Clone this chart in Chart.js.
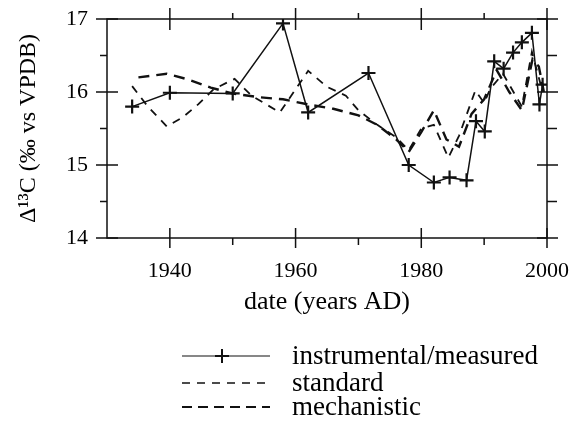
<!DOCTYPE html>
<html>
<head>
<meta charset="utf-8">
<script src="https://cdn.jsdelivr.net/npm/chart.js@4.4.1/dist/chart.umd.min.js"></script>
<style>
  html, body { margin: 0; padding: 0; background: #fff; }
</style>
</head>
<body>
<canvas id="chart" width="578" height="437"></canvas>
<script>
// measured tree-ring record
const instYears = [1934, 1940, 1950, 1958, 1962, 1971.6, 1978, 1982, 1984.5, 1987.2, 1988.7, 1990.1, 1991.6, 1993.1, 1994.6, 1996, 1997.6, 1998.8, 1999.3]
const instValues = [15.8, 15.99, 15.98, 16.94, 15.72, 16.26, 15.0, 14.76, 14.83, 14.79, 15.6, 15.46, 16.42, 16.32, 16.54, 16.68, 16.81, 15.83, 16.1]

// model: standard
const stdYears = [1934, 1936.5, 1939.5, 1942, 1944.5, 1947, 1950.3, 1953, 1957.5, 1962, 1965, 1968, 1970, 1973, 1976, 1978, 1980, 1982, 1984.3, 1986, 1988.6, 1990, 1991, 1993, 1995, 1996, 1997.6, 1999]
const stdValues = [16.08, 15.8, 15.53, 15.65, 15.83, 16.04, 16.18, 15.95, 15.72, 16.29, 16.07, 15.95, 15.75, 15.55, 15.38, 15.2, 15.5, 15.55, 15.1, 15.4, 16.02, 15.85, 16.05, 16.25, 15.95, 15.8, 16.55, 16.1]

// model: mechanistic
const mechYears = [1935, 1939.5, 1943, 1946.5, 1950, 1954, 1958, 1962, 1966, 1970, 1973, 1976, 1978, 1980, 1982, 1984, 1986, 1988, 1990, 1992, 1994, 1996, 1997.7, 1998.7, 1999.5]
const mechValues = [16.2, 16.25, 16.17, 16.06, 15.98, 15.93, 15.9, 15.83, 15.77, 15.68, 15.55, 15.35, 15.18, 15.45, 15.75, 15.35, 15.25, 15.7, 15.9, 16.3, 16.0, 15.75, 16.45, 16.35, 16.0]

const xTickValues = [1940, 1960, 1980, 2000]
const xMinorTicks = [1950, 1970, 1990]
const yTickValues = [14, 15, 16, 17]
const yMinorTicks = [14.5, 15.5, 16.5]

const legendLabels = ["instrumental/measured", "standard", "mechanistic"]

const SERIF = "'Liberation Serif', 'DejaVu Serif', serif"

const toPoints = (xs, ys) => xs.map((x, i) => ({ x: x, y: ys[i] }))

// frame with crossing major ticks on all four sides, plus the legend under the plot
const framePlugin = {
  id: "frame",
  afterDatasetsDraw(chart) {
    const { ctx, chartArea: a, scales } = chart
    const xs = scales.x
    const ys = scales.y
    ctx.save()
    ctx.strokeStyle = "#111"
    ctx.lineWidth = 1.5
    ctx.strokeRect(a.left, a.top, a.right - a.left, a.bottom - a.top)

    ctx.beginPath()
    xTickValues.forEach((v) => {
      const px = xs.getPixelForValue(v)
      ctx.moveTo(px, a.bottom - 10); ctx.lineTo(px, a.bottom + 10)
      ctx.moveTo(px, a.top - 11); ctx.lineTo(px, a.top + 11)
    })
    xMinorTicks.forEach((v) => {
      const px = xs.getPixelForValue(v)
      ctx.moveTo(px, a.bottom); ctx.lineTo(px, a.bottom + 7)
      ctx.moveTo(px, a.top); ctx.lineTo(px, a.top - 6)
    })
    yTickValues.forEach((v) => {
      const py = ys.getPixelForValue(v)
      ctx.moveTo(a.left - 11, py); ctx.lineTo(a.left + 11, py)
      ctx.moveTo(a.right - 10, py); ctx.lineTo(a.right + 11, py)
    })
    yMinorTicks.forEach((v) => {
      const py = ys.getPixelForValue(v)
      ctx.moveTo(a.left - 7, py); ctx.lineTo(a.left, py)
      ctx.moveTo(a.right, py); ctx.lineTo(a.right + 10, py)
    })
    ctx.stroke()
    ctx.restore()
  },
  afterDraw(chart) {
    const { ctx } = chart
    const x0 = 182, x1 = 270, textX = 292
    const rows = [356, 383, 407]
    ctx.save()
    ctx.strokeStyle = "#111"

    // instrumental: solid line with a cross
    ctx.lineWidth = 1.2
    ctx.beginPath()
    ctx.moveTo(x0, rows[0]); ctx.lineTo(x1, rows[0])
    ctx.stroke()
    ctx.lineWidth = 2
    ctx.beginPath()
    ctx.moveTo(222 - 7, rows[0]); ctx.lineTo(222 + 7, rows[0])
    ctx.moveTo(222, rows[0] - 7); ctx.lineTo(222, rows[0] + 7)
    ctx.stroke()

    // standard: thin short dashes
    ctx.lineWidth = 1.3
    ctx.setLineDash([8, 7])
    ctx.beginPath()
    ctx.moveTo(x0, rows[1]); ctx.lineTo(x1, rows[1])
    ctx.stroke()

    // mechanistic: heavier dashes
    ctx.lineWidth = 1.8
    ctx.setLineDash([10, 6])
    ctx.beginPath()
    ctx.moveTo(x0, rows[2]); ctx.lineTo(x1, rows[2])
    ctx.stroke()
    ctx.setLineDash([])

    ctx.fillStyle = "#000"
    ctx.font = "27px " + SERIF
    ctx.textBaseline = "middle"
    ctx.textAlign = "left"
    legendLabels.forEach((t, i) => ctx.fillText(t, textX, rows[i] + 1))
    ctx.restore()
  }
}

new Chart(document.getElementById("chart").getContext("2d"), {
  type: "line",
  data: {
    datasets: [
      {
        label: legendLabels[0],
        data: toPoints(instYears, instValues),
        borderColor: "#111",
        borderWidth: 1.5,
        pointStyle: "cross",
        pointRadius: 7,
        pointBorderWidth: 2.2,
        pointBorderColor: "#111",
        pointBackgroundColor: "#111",
        tension: 0
      },
      {
        label: legendLabels[1],
        data: toPoints(stdYears, stdValues),
        borderColor: "#111",
        borderWidth: 1.8,
        borderDash: [8, 7],
        pointRadius: 0,
        tension: 0
      },
      {
        label: legendLabels[2],
        data: toPoints(mechYears, mechValues),
        borderColor: "#111",
        borderWidth: 2.4,
        borderDash: [11, 7],
        pointRadius: 0,
        tension: 0
      }
    ]
  },
  options: {
    responsive: false,
    animation: false,
    layout: { padding: { left: 0, top: 19, right: 31, bottom: 119 } },
    plugins: {
      legend: { display: false },
      tooltip: { enabled: false }
    },
    scales: {
      x: {
        type: "linear",
        min: 1930,
        max: 2000,
        afterFit: (s) => { s.height = 80; s.paddingLeft = 0; s.paddingRight = 0 },
        afterBuildTicks: (s) => { s.ticks = xTickValues.map((v) => ({ value: v })) },
        grid: { display: false, drawTicks: false },
        border: { display: false },
        ticks: {
          font: { family: SERIF, size: 22 },
          color: "#000",
          padding: 20,
          maxRotation: 0,
          callback: (v) => String(v)
        },
        title: {
          display: true,
          text: "date (years AD)",
          font: { family: SERIF, size: 26 },
          color: "#000",
          padding: { top: 0, bottom: 0 }
        }
      },
      y: {
        type: "linear",
        min: 14,
        max: 17,
        afterFit: (s) => { s.width = 107; s.paddingTop = 0; s.paddingBottom = 0 },
        afterBuildTicks: (s) => { s.ticks = yTickValues.map((v) => ({ value: v })) },
        grid: { display: false, drawTicks: false },
        border: { display: false },
        ticks: {
          font: { family: SERIF, size: 22 },
          color: "#000",
          padding: 19,
          callback: (v) => String(v)
        },
        title: {
          display: true,
          text: "Δ¹³C (‰ vs VPDB)",
          font: { family: SERIF, size: 24 },
          color: "#000",
          padding: { top: 14, bottom: 0 }
        }
      }
    }
  },
  plugins: [framePlugin]
})
</script>
</body>
</html>
